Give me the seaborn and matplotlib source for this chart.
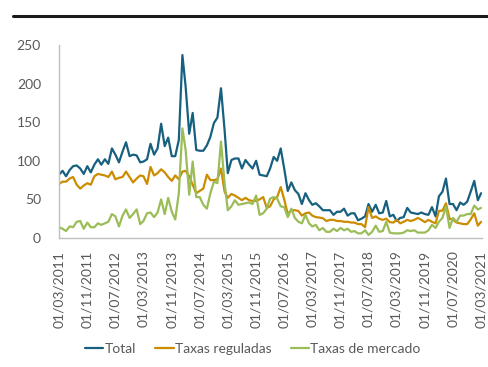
import matplotlib
matplotlib.use("Agg")
import matplotlib.pyplot as plt
from matplotlib.lines import Line2D
import pandas as pd
import seaborn as sns

# ---- data (monthly, from 01/03/2011) ----
start_date = "2011-03-01"
series_names = ["Total", "Taxas reguladas", "Taxas de mercado"]

total = [82, 87, 80, 88, 93, 94, 90, 83, 93, 85, 95, 102, 95, 102, 96, 116, 108, 98, 112, 124,
         106, 108, 107, 98, 99, 102, 122, 108, 116, 148, 119, 130, 106, 106, 127, 237, 196, 135, 162, 114,
         113, 113, 120, 131, 149, 156, 194, 140, 84, 101, 103, 103,
         90, 101, 95, 90, 100, 82, 81, 80, 90, 105, 100, 116, 90, 61, 72, 62, 57, 44, 58, 49,
         43, 45, 41, 36, 36, 36, 30, 34, 34, 38, 29, 32, 32, 23, 25, 28, 44, 34, 43, 32,
         33, 48, 28, 30, 22, 26, 27, 39, 33, 32, 31, 33, 31, 30, 40, 28, 54, 60, 77, 44,
         44, 36, 46, 43, 47, 60, 74, 49, 58]

reguladas = [70, 73, 73, 77, 79, 69, 64, 68, 71, 69, 80, 83, 82, 81, 79, 86, 76, 78, 79, 86,
             79, 72, 77, 81, 80, 70, 92, 81, 84, 89, 85, 79, 74, 81, 76, 86, 87, 80, 69, 58,
             61, 64, 82, 75, 75, 76, 90, 60, 52, 57, 55, 52,
             49, 52, 49, 48, 48, 50, 53, 39, 41, 50, 53, 66, 50, 31, 36, 36, 35, 29, 32, 33,
             29, 27, 26.5, 25.6, 22, 23.5, 23.5, 22, 22, 21, 21, 20, 20, 18, 18, 14, 40, 26, 28, 25,
             23.5, 25, 20.5, 20, 23.5, 19, 21, 23.5, 22, 23.5, 26, 23.5, 20.5, 23.5, 21, 19, 35, 35.5, 45, 25,
             23.5, 20, 19, 18, 18, 24, 32, 16, 21]

mercado = [14, 12, 9, 15, 14, 21, 22, 12, 20, 14, 14, 19, 17, 19, 21, 31, 28, 15, 29, 37,
           26, 31, 37, 18, 22, 32, 33, 27, 33, 50, 31, 52, 34, 24, 58, 142, 114, 56, 99, 53,
           53, 43, 38, 58, 73, 71, 125, 71, 36, 41, 49, 43,
           44, 45, 46, 44, 55, 30, 32, 38, 51, 53, 51, 41, 40, 27, 38, 26, 21, 19, 30, 19,
           15, 17, 10, 13, 8, 8, 12, 9, 13, 10, 12, 8, 9, 6, 6, 10, 4, 8, 16, 8,
           9, 21, 7, 6, 6, 6, 7, 10, 9, 10, 7, 7, 7, 10, 17, 13, 21, 26, 41, 13,
           26, 21, 29, 29, 31, 31, 42, 37, 39]

tick_labels = ["01/03/2011", "01/11/2011", "01/07/2012", "01/03/2013", "01/11/2013",
               "01/07/2014", "01/03/2015", "01/11/2015", "01/07/2016", "01/03/2017",
               "01/11/2017", "01/07/2018", "01/03/2019", "01/11/2019", "01/07/2020",
               "01/03/2021"]
y_ticks = [0, 50, 100, 150, 200, 250]

colors = ["#17607F", "#CC8C00", "#9BBD57"]

dates = pd.date_range(start_date, periods=len(total), freq="MS")
wide = pd.DataFrame({"Data": dates, series_names[0]: total,
                     series_names[1]: reguladas, series_names[2]: mercado})
df = wide.melt(id_vars="Data", var_name="Série", value_name="Valor")

sns.set_style("white")
plt.rcParams["font.family"] = ["Lato", "DejaVu Sans"]

W, H = 489, 367
fig = plt.figure(figsize=(W / 100, H / 100), dpi=100)
ax = fig.add_axes([59 / W, 129 / H, (482 - 59) / W, 193 / H])

sns.lineplot(data=df, x="Data", y="Valor", hue="Série", hue_order=series_names,
             palette=colors, linewidth=1.6, ax=ax, legend=False)

tick_dates = pd.to_datetime(tick_labels, format="%d/%m/%Y")
ax.set_xlim(dates[0], dates[-1] + pd.Timedelta(days=8))
ax.set_ylim(0, 250)
ax.set_xticks(tick_dates)
ax.set_xticklabels(tick_labels, rotation=90)
ax.set_yticks(y_ticks)
ax.set_xlabel("")
ax.set_ylabel("")

for s in ["top", "right"]:
    ax.spines[s].set_visible(False)
for s in ["left", "bottom"]:
    ax.spines[s].set_color("#BFBFBF")
    ax.spines[s].set_linewidth(1.0)
ax.tick_params(axis="both", direction="out", length=5, width=1.0, color="#BFBFBF",
               labelcolor="#595959", labelsize=10)
ax.tick_params(axis="x", pad=4)
ax.tick_params(axis="y", pad=8)

handles = [Line2D([0], [0], color=c, lw=1.6) for c in colors]
fig.legend(handles, series_names, loc="center", bbox_to_anchor=(253 / W, 1 - 349 / H),
           ncol=3, frameon=False, handlelength=1.3, handletextpad=0.1,
           columnspacing=1.4, fontsize=10, labelcolor="#595959")

fig.add_artist(Line2D([13 / W, 1.0], [1 - 16 / H, 1 - 16 / H], color="#1a1a1a",
                      lw=2.2, transform=fig.transFigure))

fig.savefig("out.png", dpi=100)
